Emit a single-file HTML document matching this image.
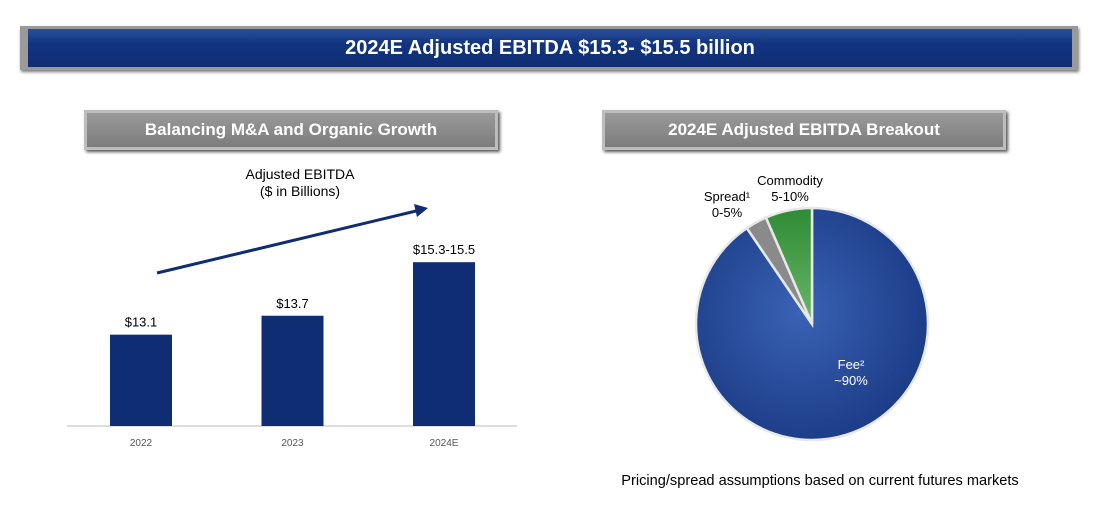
<!DOCTYPE html>
<html><head><meta charset="utf-8"><style>
body{margin:0;width:1094px;height:525px;background:#fff;font-family:"Liberation Sans",sans-serif;position:relative;overflow:hidden}
.banner{position:absolute;left:20px;top:26px;width:1058px;height:44px;background:linear-gradient(#2a4f9a,#123480 40%,#0f2d72);border:3px solid #9a9a9a;border-left-width:8px;border-right-width:6px;box-sizing:border-box;color:#fff;font-weight:bold;font-size:20px;text-align:center;line-height:38px;box-shadow:1px 2px 3px #777}
.sub{position:absolute;top:110px;height:40px;background:linear-gradient(#9a9a9a,#7c7c7c);border:3px solid #bdbdbd;box-sizing:border-box;color:#fff;font-weight:bold;font-size:17px;text-align:center;line-height:34px;box-shadow:2px 2px 3px #555}
.t{position:absolute;font-size:13px;color:#000;text-align:center}
</style></head><body>
<div class="banner">2024E Adjusted EBITDA $15.3- $15.5 billion</div>
<div class="sub" style="left:84px;width:414px">Balancing M&amp;A and Organic Growth</div>
<div class="sub" style="left:602px;width:404px">2024E Adjusted EBITDA Breakout</div>
<div class="t" style="left:200px;width:200px;top:166px;font-size:14px;line-height:17px">Adjusted EBITDA<br>($ in Billions)</div>
<div class="t" style="left:560px;width:520px;top:473px;font-size:14.6px">Pricing/spread assumptions based on current futures markets</div>
<svg width="1094" height="525" style="position:absolute;left:0;top:0" id="svg">
<defs>
<radialGradient id="gb" cx="45%" cy="45%" r="60%"><stop offset="0" stop-color="#3a62b4"/><stop offset="1" stop-color="#1a3a85"/></radialGradient>
<linearGradient id="gg" x1="0" y1="0" x2="0" y2="1"><stop offset="0" stop-color="#2f8a35"/><stop offset="1" stop-color="#68b868"/></linearGradient>
</defs>
<line x1="157" y1="273" x2="416" y2="211" stroke="#0f2d72" stroke-width="3"/>
<path d="M428,208 L414,204 L417,217 Z" fill="#0f2d72"/>
<line x1="67" y1="426" x2="517" y2="426" stroke="#bbb" stroke-width="1"/>
<g id="bars"></g><g id="pie"></g>
</svg>
<script>
const categories=["2022","2023","2024E"];
const values=[13.1,13.7,15.4];
const labels=["$13.1","$13.7","$15.3-15.5"];
const pieNames=["Fee","Spread","Commodity"];
const pieValues=[90.5,3,6.5];
const NS="http://www.w3.org/2000/svg";
const base=426,yMin=10.2,pxPer=31.5;
const y=v=>base-(v-yMin)*pxPer;
const xC=i=>141+i*151.5;
const bars=document.getElementById('bars');
categories.forEach((c,i)=>{
 const r=document.createElementNS(NS,'rect');
 r.setAttribute('x',xC(i)-31);r.setAttribute('width',62);
 r.setAttribute('y',y(values[i]));r.setAttribute('height',base-y(values[i]));
 r.setAttribute('fill','#0f2d72');
 
 
 bars.appendChild(r);
 const t=document.createElementNS(NS,'text');
 t.setAttribute('x',xC(i));t.setAttribute('y',y(values[i])-8);
 t.setAttribute('text-anchor','middle');t.setAttribute('font-size','13');t.textContent=labels[i];
 
 
 bars.appendChild(t);
 const a=document.createElementNS(NS,'text');
 a.setAttribute('x',xC(i));a.setAttribute('y',446);
 a.setAttribute('text-anchor','middle');a.setAttribute('font-size','10');a.setAttribute('fill','#555');a.textContent=c;
 
 
 bars.appendChild(a);
});
const pie=document.getElementById('pie');
const cx=812,cy=324,R=116;
const fills=["url(#gb)","#8a8a8a","url(#gg)"];
const tot=pieValues.reduce((a,b)=>a+b,0);
let ang=0;
pieValues.forEach((v,i)=>{
 const a0=ang,a1=ang+v/tot*2*Math.PI;ang=a1;
 const p=a=>[cx+R*Math.sin(a),cy-R*Math.cos(a)];
 const [x0,y0]=p(a0),[x1,y1]=p(a1);
 const path=document.createElementNS(NS,'path');
 path.setAttribute('d',`M${cx},${cy}L${x0},${y0}A${R},${R} 0 ${a1-a0>Math.PI?1:0} 1 ${x1},${y1}Z`);
 path.setAttribute('fill',fills[i]);path.setAttribute('stroke','#e8e8e8');path.setAttribute('stroke-width','2.5');
 
 
 pie.appendChild(path);
});
function lbl(x,yy,lines,fill,name){
 const t=document.createElementNS(NS,'text');
 t.setAttribute('text-anchor','middle');t.setAttribute('font-size','13');t.setAttribute('fill',fill);
 lines.forEach((l,k)=>{const s=document.createElementNS(NS,'tspan');s.setAttribute('x',x);s.setAttribute('y',yy+k*16);s.textContent=l;t.appendChild(s);});
 
 
 pie.appendChild(t);
}
lbl(851,369,["Fee²","~90%"],"#fff","fee-label");
lbl(790,185,["Commodity","5-10%"],"#000","commodity-label");
lbl(727,201,["Spread¹","0-5%"],"#000","spread-label");
</script>
</body></html>
